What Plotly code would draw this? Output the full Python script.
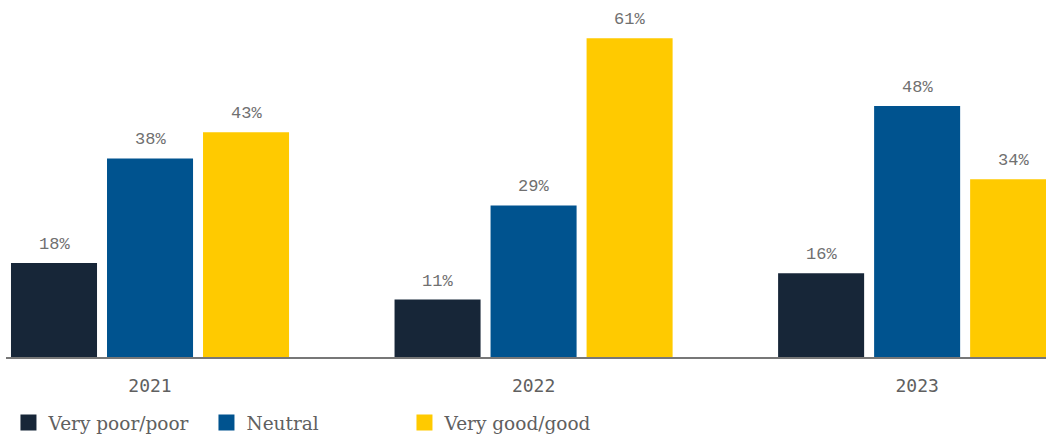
import plotly.graph_objects as go

years = ["2021", "2022", "2023"]
series_names = ["Very poor/poor", "Neutral", "Very good/good"]
very_poor = [18, 11, 16]
neutral = [38, 29, 48]
very_good = [43, 61, 34]

colors = ["#172638", "#00538F", "#FFCA00"]
values = [very_poor, neutral, very_good]

fig = go.Figure()
for name, vals, col in zip(series_names, values, colors):
    fig.add_trace(go.Bar(
        x=years, y=vals, name=name, marker=dict(color=col, line=dict(width=0)),
        showlegend=False, offsetgroup=name,
    ))

# legend swatches drawn as larger squares
for name, col in zip(series_names, colors):
    fig.add_trace(go.Scatter(
        x=[None], y=[None], mode="markers", name=name,
        marker=dict(symbol="square", size=19, color=col),
    ))

# value labels above bars
annotations = []
for i, (vals, col) in enumerate(zip(values, colors)):
    for j, v in enumerate(vals):
        annotations.append(dict(
            x=j + (i - 1) * 0.2503, y=v, xref="x", yref="y",
            text=f"{v}%", showarrow=False, yanchor="bottom", yshift=7,
            font=dict(family="Liberation Mono", size=17, color="#707070"),
        ))

fig.update_layout(
    width=1046, height=436,
    margin=dict(l=6, r=0, t=0, b=79),
    paper_bgcolor="white", plot_bgcolor="white",
    barmode="group", bargap=0.249, bargroupgap=0.104,
    annotations=annotations,
    xaxis=dict(
        type="category", range=[-0.3755, 2.336],
        showline=True, linecolor="#777777", linewidth=1.5,
        showgrid=False, ticks="", ticklabelstandoff=12,
        tickfont=dict(family="DejaVu Sans Mono", size=18, color="#606060"),
        fixedrange=True,
    ),
    yaxis=dict(range=[0, 68.3], visible=False, showgrid=False, fixedrange=True),
    legend=dict(
        orientation="h", xref="container", yref="container",
        x=0.0081, y=1 - 423 / 436, xanchor="left", yanchor="middle",
        entrywidth=153, entrywidthmode="pixels",
        font=dict(family="DejaVu Serif", size=18.5, color="#606060"),
        bgcolor="rgba(0,0,0,0)",
    ),
)

fig.write_html("out.html")
